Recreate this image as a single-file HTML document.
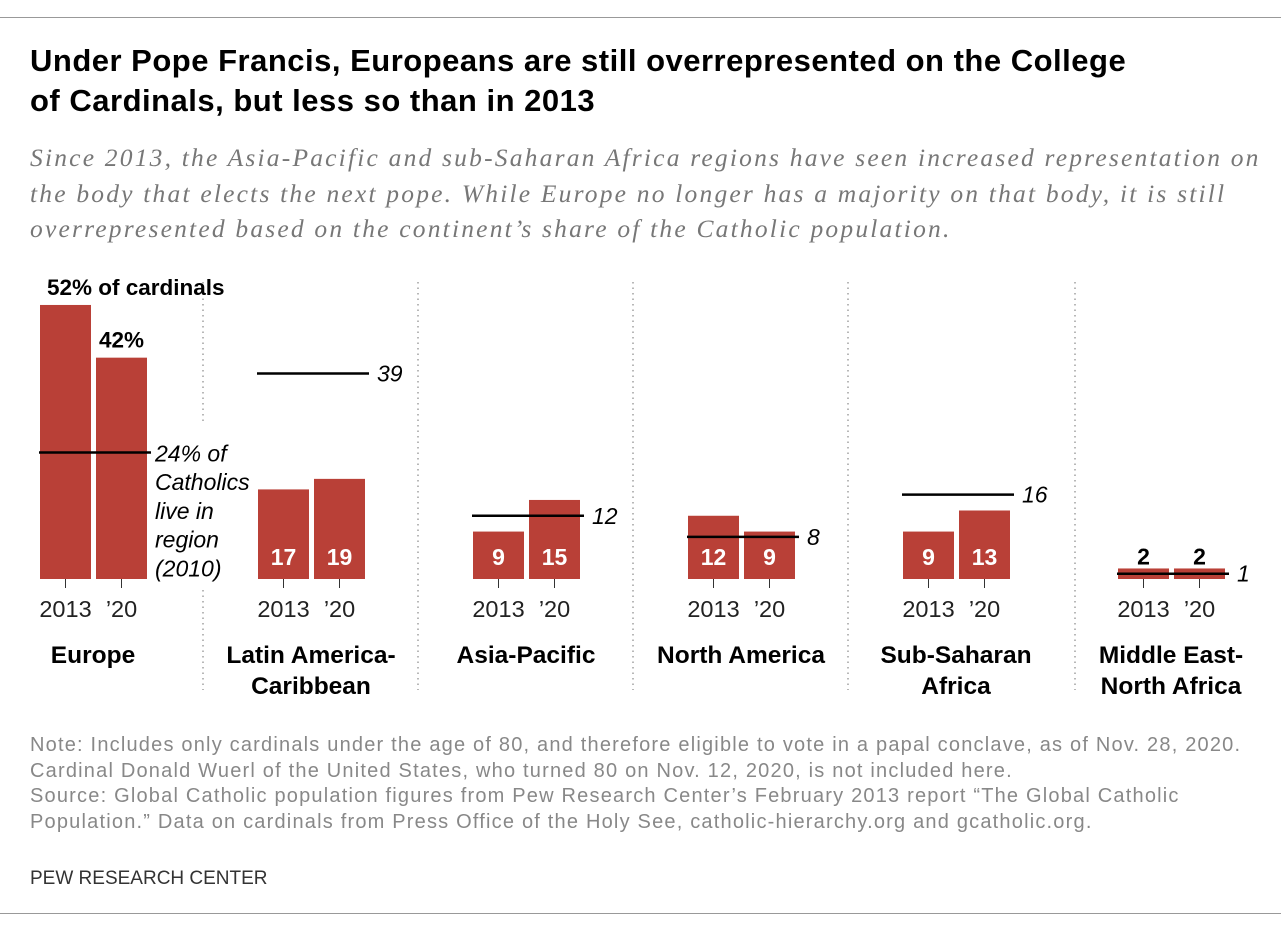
<!DOCTYPE html>
<html><head><meta charset="utf-8">
<style>
body{margin:0;background:#fff;width:1281px;height:933px;overflow:hidden;font-family:"Liberation Sans",sans-serif}
.abs{position:absolute;white-space:nowrap}
</style></head>
<body>
<div class="abs" style="left:0;top:17px;width:1281px;height:1px;background:#999"></div>
<div class="abs" style="left:30px;top:41px;font-size:31px;letter-spacing:0.5px;font-weight:bold;line-height:40px;color:#000">Under Pope Francis, Europeans are still overrepresented on the College<br>of Cardinals, but less so than in 2013</div>
<div class="abs" style="left:30px;top:140px;font-family:'Liberation Serif',serif;font-style:italic;font-size:25.5px;letter-spacing:2.2px;line-height:35.5px;color:#777">Since 2013, the Asia-Pacific and sub-Saharan Africa regions have seen increased representation on<br>the body that elects the next pope. While Europe no longer has a majority on that body, it is still<br>overrepresented based on the continent’s share of the Catholic population.</div>
<svg id="chart" width="1281" height="720" style="position:absolute;left:0;top:0" font-family="Liberation Sans, sans-serif"></svg>
<div class="abs" style="left:30px;top:733px;font-size:20px;letter-spacing:1.2px;line-height:25.5px;color:#888">Note: Includes only cardinals under the age of 80, and therefore eligible to vote in a papal conclave, as of Nov. 28, 2020.<br>Cardinal Donald Wuerl of the United States, who turned 80 on Nov. 12, 2020, is not included here.<br>Source: Global Catholic population figures from Pew Research Center’s February 2013 report “The Global Catholic<br>Population.” Data on cardinals from Press Office of the Holy See, catholic-hierarchy.org and gcatholic.org.</div>
<div class="abs" style="left:30px;top:868px;font-size:19px;color:#333">PEW RESEARCH CENTER</div>
<div class="abs" style="left:0;top:913px;width:1281px;height:1px;background:#999"></div>
<script>
const regions=["Europe","Latin America-\nCaribbean","Asia-Pacific","North America","Sub-Saharan\nAfrica","Middle East-\nNorth Africa"];
const cardinals2013=[52,17,9,12,9,2];
const cardinals2020=[42,19,15,9,13,2];
const catholicShare=[24,39,12,8,16,1];
const yearLabels=["2013","’20"];
const NS="http://www.w3.org/2000/svg";
const svg=document.getElementById("chart");
const base=579, scale=5.27, barW=51, gap=5;
function y(v){return base-v*scale;}
function gx(i){return i===0?40:43+i*215;}
function sepX(i){return i===regions.length-1?1075:gx(i)-55;}
function mk(tag,attrs,text){const e=document.createElementNS(NS,tag);for(const k in attrs)e.setAttribute(k,attrs[k]);if(text!==undefined)e.textContent=text;svg.appendChild(e);return e;}
for(let i=1;i<regions.length;i++){
  const sx=sepX(i);
  const segs=i===1?[[282,425],[590,690]]:[[282,690]];
  segs.forEach(sg=>{
    const s=mk("line",{x1:sx,x2:sx,y1:sg[0],y2:sg[1],stroke:"#888","stroke-width":1.2,"stroke-dasharray":"1.5,4"});
    
    
  });
}
regions.forEach((r,i)=>{
  const x0=gx(i);
  [cardinals2013[i],cardinals2020[i]].forEach((v,j)=>{
    const bx=x0+j*(barW+gap);
    const b=mk("rect",{x:bx,y:y(v),width:barW,height:v*scale,fill:"#b94037"});
    
    
    const t=mk("line",{x1:bx+barW/2,x2:bx+barW/2,y1:base,y2:base+9,stroke:"#333","stroke-width":1});
    
    
    const yl=mk("text",{x:bx+barW/2,y:base+38,"text-anchor":"middle","font-size":23.5,fill:"#222"},yearLabels[j]);
    
    
    let lbl;
    if(i===0){
      lbl=mk("text",{x:j?bx+barW/2:bx+7,y:y(v)-10,"text-anchor":j?"middle":"start","font-size":22.5,"font-weight":"bold",fill:"#000"},j?v+"%":v+"% of cardinals");
    } else if(v*scale<30){
      lbl=mk("text",{x:bx+barW/2,y:y(v)-4,"text-anchor":"middle","font-size":23,"font-weight":"bold",fill:"#000"},v);
    } else {
      lbl=mk("text",{x:bx+barW/2,y:base-14,"text-anchor":"middle","font-size":23,"font-weight":"bold",fill:"#fff"},v);
    }
    
    
  });
  const ly=y(catholicShare[i]);
  const l=mk("line",{x1:x0-1,x2:x0+2*barW+gap+4,y1:ly,y2:ly,stroke:"#000","stroke-width":2.5});
  
  
  if(i===0){
    const lines=[catholicShare[i]+"% of","Catholics","live in","region","(2010)"];
    lines.forEach((s,k)=>{
      const t=mk("text",{x:x0+115,y:ly+9+k*28.7,"font-size":23,"font-style":"italic",fill:"#000"},s);
      
      
    });
  } else {
    const t=mk("text",{x:x0+2*barW+gap+12,y:ly+8,"font-size":23,"font-style":"italic",fill:"#000"},catholicShare[i]);
    
    
  }
  r.split("\n").forEach((s,k)=>{
    const t=mk("text",{x:x0+53,y:663+k*31,"text-anchor":"middle","font-size":24.5,"font-weight":"bold",fill:"#000"},s);
    
    
  });
});
</script>
</body></html>
